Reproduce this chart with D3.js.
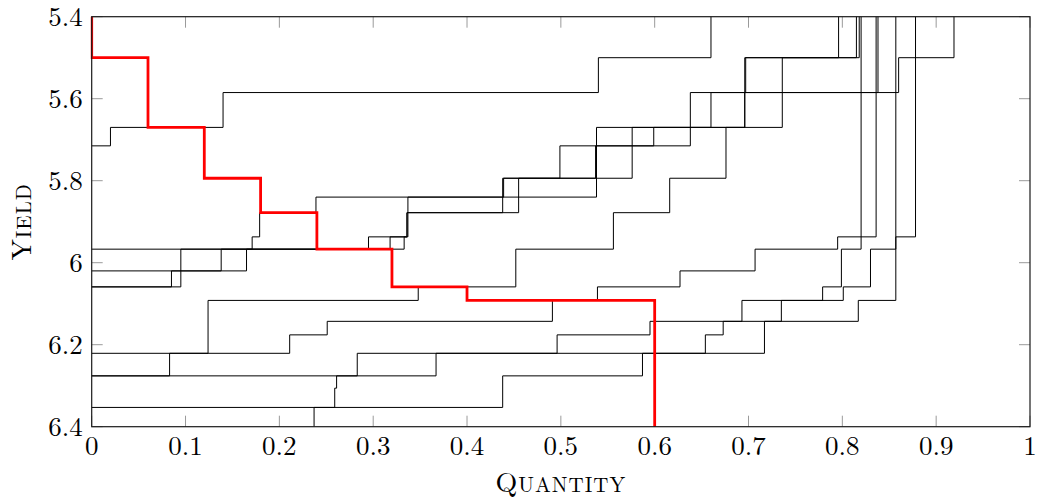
<!DOCTYPE html>
<html>
<head>
<meta charset="utf-8">
<script src="https://cdn.jsdelivr.net/npm/d3@7"></script>
<style>
  body { margin: 0; background: #fff; }
  svg { display: block; }
  text { font-family: "Latin Modern Roman", "CMU Serif", "Liberation Serif", serif; fill: #000; }
</style>
</head>
<body>
<svg id="chart" width="1039" height="502"></svg>
<script>
// tick values
var xTicks = [0, 0.1, 0.2, 0.3, 0.4, 0.5, 0.6, 0.7, 0.8, 0.9, 1];
var yTicks = [5.4, 5.6, 5.8, 6, 6.2, 6.4];

// each series: quantity where a step begins, and the yield of that step
var demandQuantity = [0, 0, 0.06, 0.12, 0.18, 0.24, 0.32, 0.40, 0.60];
var demandYield    = [5.4, 5.5, 5.67, 5.794, 5.878, 5.967, 6.059, 6.092, 6.4];

var supplyA_q = [0, 0.020, 0.140, 0.540, 0.660];
var supplyA_y = [5.715, 5.670, 5.585, 5.500, 5.4];
var supplyB_q = [0, 0.171, 0.179, 0.239, 0.538, 0.696, 0.697, 0.815];
var supplyB_y = [5.967, 5.937, 5.878, 5.840, 5.670, 5.585, 5.500, 5.4];
var supplyC_q = [0, 0.085, 0.165, 0.318, 0.336, 0.438, 0.537, 0.599, 0.660, 0.838];
var supplyC_y = [6.059, 6.020, 5.967, 5.937, 5.878, 5.794, 5.715, 5.670, 5.585, 5.4];
var supplyD_q = [0, 0.095, 0.333, 0.336, 0.455, 0.576, 0.696, 0.796];
var supplyD_y = [6.059, 5.967, 5.937, 5.878, 5.794, 5.670, 5.500, 5.4];
var supplyE_q = [0, 0.138, 0.295, 0.337, 0.439, 0.499, 0.638, 0.860, 0.919];
var supplyE_y = [6.020, 5.967, 5.937, 5.840, 5.794, 5.715, 5.585, 5.500, 5.4];
var supplyF_q = [0, 0.083, 0.124, 0.348, 0.452, 0.556, 0.616, 0.676, 0.736, 0.818];
var supplyF_y = [6.276, 6.221, 6.092, 6.059, 5.967, 5.878, 5.794, 5.670, 5.500, 5.4];
var supplyG_q = [0, 0.283, 0.496, 0.595, 0.817, 0.857];
var supplyG_y = [6.276, 6.221, 6.176, 6.143, 6.092, 5.4];
var supplyH_q = [0, 0.211, 0.251, 0.491, 0.539, 0.627, 0.707, 0.795, 0.836];
var supplyH_y = [6.221, 6.176, 6.143, 6.092, 6.059, 6.020, 5.967, 5.937, 5.4];
var supplyI_q = [0, 0.438, 0.587, 0.717, 0.735, 0.801, 0.830, 0.857, 0.878];
var supplyI_y = [6.353, 6.276, 6.221, 6.143, 6.092, 6.059, 5.967, 5.937, 5.4];
var supplyJ_q = [0.237, 0.237, 0.259, 0.261, 0.367, 0.654, 0.673, 0.693, 0.779, 0.799, 0.820];
var supplyJ_y = [6.4, 6.353, 6.306, 6.276, 6.221, 6.176, 6.143, 6.092, 6.059, 5.967, 5.4];

var supplies = [
  [supplyA_q, supplyA_y], [supplyB_q, supplyB_y], [supplyC_q, supplyC_y],
  [supplyD_q, supplyD_y], [supplyE_q, supplyE_y], [supplyF_q, supplyF_y],
  [supplyG_q, supplyG_y], [supplyH_q, supplyH_y], [supplyI_q, supplyI_y],
  [supplyJ_q, supplyJ_y]
];

var svg = d3.select("#chart");
var margin = {left: 91.7, right: 9, top: 16.7, bottom: 75.3};
var width = 1039 - margin.left - margin.right,
    height = 502 - margin.top - margin.bottom;

var x = d3.scaleLinear().domain([0, 1]).range([0, width]);
var y = d3.scaleLinear().domain([5.4, 6.4]).range([0, height]);

var g = svg.append("g").attr("transform", "translate(" + margin.left + "," + margin.top + ")");

svg.append("defs").append("clipPath").attr("id", "plotclip")
  .append("rect").attr("x", -1).attr("y", -1).attr("width", width + 2).attr("height", height + 2);

function toPoints(q, yv) {
  return q.map(function(d, i) { return [d, yv[i]]; });
}

var stepLine = d3.line()
  .x(function(d) { return x(d[0]); })
  .y(function(d) { return y(d[1]); })
  .curve(d3.curveStepAfter);

// ticks, inside on all four sides
var tickLen = 11;
var ticks = g.append("g").attr("stroke", "#9a9a9a").attr("stroke-width", 1);
xTicks.forEach(function(t) {
  ticks.append("line").attr("x1", x(t)).attr("x2", x(t)).attr("y1", height).attr("y2", height - tickLen);
  ticks.append("line").attr("x1", x(t)).attr("x2", x(t)).attr("y1", 0).attr("y2", tickLen);
});
yTicks.forEach(function(t) {
  ticks.append("line").attr("x1", 0).attr("x2", tickLen).attr("y1", y(t)).attr("y2", y(t));
  ticks.append("line").attr("x1", width).attr("x2", width - tickLen).attr("y1", y(t)).attr("y2", y(t));
});

var plot = g.append("g").attr("clip-path", "url(#plotclip)");

plot.selectAll("path.supply")
  .data(supplies)
  .enter().append("path")
  .attr("class", "supply")
  .attr("fill", "none")
  .attr("stroke", "#000")
  .attr("stroke-width", 1)
  .attr("d", function(s) { return stepLine(toPoints(s[0], s[1])); });

plot.append("path")
  .attr("fill", "none")
  .attr("stroke", "#ff0000")
  .attr("stroke-width", 2.8)
  .attr("d", stepLine(toPoints(demandQuantity, demandYield)));

// frame
g.append("rect")
  .attr("width", width).attr("height", height)
  .attr("fill", "none").attr("stroke", "#1a1a1a").attr("stroke-width", 1.2);

var fmt = d3.format("~f");

g.append("g").selectAll("text")
  .data(xTicks).enter().append("text")
  .attr("x", function(d) { return x(d); })
  .attr("y", height + 19)
  .attr("text-anchor", "middle")
  .attr("dy", "0.33em")
  .style("font-size", "27px")
  .text(function(d) { return fmt(d); });

g.append("g").selectAll("text")
  .data(yTicks).enter().append("text")
  .attr("x", -9)
  .attr("y", function(d) { return y(d); })
  .attr("text-anchor", "end")
  .attr("dy", "0.33em")
  .style("font-size", "27px")
  .text(function(d) { return fmt(d); });

// small-caps titles: large first capital, smaller remaining capitals
function smallCaps(sel, word) {
  sel.append("tspan").style("font-size", "28px").text(word.charAt(0));
  sel.append("tspan").style("font-size", "21px").text(word.slice(1).toUpperCase());
}

svg.append("text")
  .attr("x", margin.left + width / 2)
  .attr("y", 492)
  .attr("text-anchor", "middle")
  .style("letter-spacing", "1px")
  .call(smallCaps, "Quantity");

svg.append("text")
  .attr("transform", "translate(31," + (margin.top + height / 2) + ") rotate(-90)")
  .attr("text-anchor", "middle")
  .style("letter-spacing", "1px")
  .call(smallCaps, "Yield");
</script>
</body>
</html>
